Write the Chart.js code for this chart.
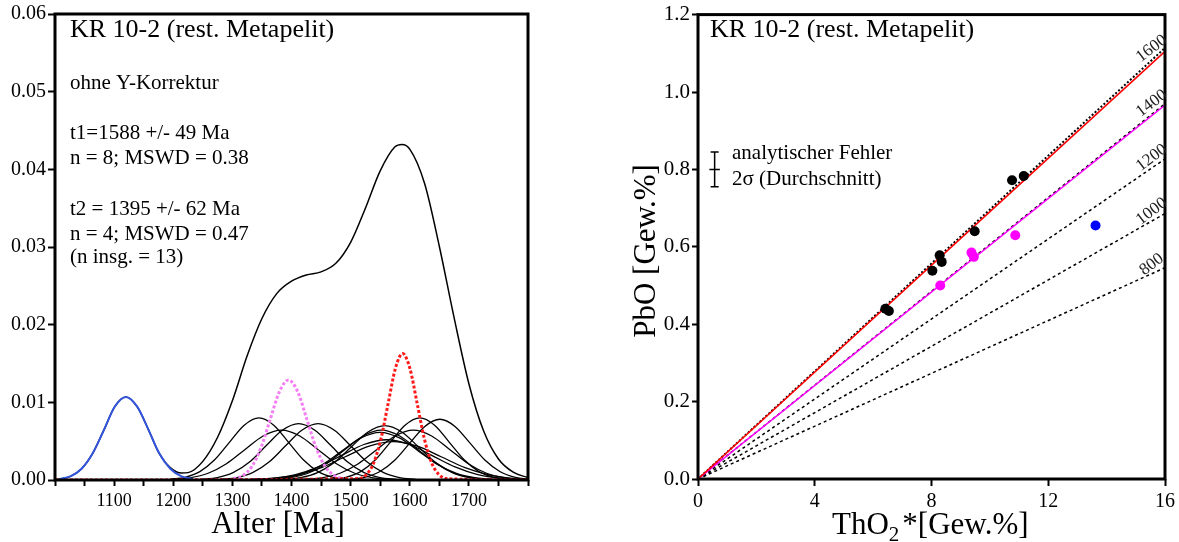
<!DOCTYPE html>
<html>
<head>
<meta charset="utf-8">
<script src="https://cdn.jsdelivr.net/npm/chart.js@4"></script>
<style>
  body { margin: 0; background: #fff; width: 1179px; height: 542px; overflow: hidden; position: relative; }
  .box { position: absolute; top: 0; height: 542px; }
</style>
</head>
<body>
<div class="box" style="left:0;width:560px"><canvas id="pdf"></canvas></div>
<div class="box" style="left:590px;width:589px"><canvas id="iso"></canvas></div>
<script>
// ---------- left panel: probability density vs. age [Ma] ----------
const blueCurve = [[1008,0.00012],[1026,0.00047],[1045,0.00145],[1064,0.00347],[1083,0.00649],[1101,0.00944],[1120,0.0107],[1139,0.00944],[1158,0.00649],[1176,0.00347],[1195,0.00145],[1214,0.00047],[1233,0.00012]];
// t2 mean (magenta dotted) and t1 mean (red dotted)
const t2Curve = [[1302,0.00014],[1317.5,0.00057],[1333,0.00174],[1348.5,0.00418],[1364,0.00781],[1379.5,0.01136],[1395,0.01287],[1410.5,0.01136],[1426,0.00781],[1441.5,0.00418],[1457,0.00174],[1472.5,0.00057],[1488,0.00014]];
const t1Curve = [[1000,0],[1514.5,0.00018],[1526.75,0.00071],[1539,0.0022],[1551.25,0.00529],[1563.5,0.00987],[1575.75,0.01437],[1588,0.01628],[1600.25,0.01437],[1612.5,0.00987],[1624.75,0.00529],[1637,0.0022],[1649.25,0.00071],[1661.5,0.00018],[1800,0]];
// single analyses (black)
const singleCurves = [
  [[1195,0.00009],[1220,0.00035],[1245,0.00108],[1270,0.0026],[1295,0.00485],[1320,0.00706],[1345,0.008],[1370,0.00706],[1395,0.00485],[1420,0.0026],[1445,0.00108],[1470,0.00035],[1495,0.00009]],
  [[1197,0.00007],[1228,0.00028],[1259,0.00087],[1290,0.00209],[1321,0.0039],[1352,0.00567],[1383,0.00643],[1414,0.00567],[1445,0.0039],[1476,0.00209],[1507,0.00087],[1538,0.00028],[1569,0.00007]],
  [[1247,0.00008],[1274.5,0.00032],[1302,0.00098],[1329.5,0.00235],[1357,0.0044],[1384.5,0.0064],[1412,0.00725],[1439.5,0.0064],[1467,0.0044],[1494.5,0.00235],[1522,0.00098],[1549.5,0.00032],[1577,0.00008]],
  [[1280,0.00008],[1307.5,0.00032],[1335,0.00098],[1362.5,0.00235],[1390,0.0044],[1417.5,0.0064],[1445,0.00725],[1472.5,0.0064],[1500,0.0044],[1527.5,0.00235],[1555,0.00098],[1582.5,0.00032],[1610,0.00008]],
  [[1387,0.00008],[1415.5,0.00031],[1444,0.00095],[1472.5,0.00227],[1501,0.00425],[1529.5,0.00618],[1558,0.007],[1586.5,0.00618],[1615,0.00425],[1643.5,0.00227],[1672,0.00095],[1700.5,0.00031],[1729,0.00008]],
  [[1366,0.00007],[1397,0.00028],[1428,0.00087],[1459,0.00209],[1490,0.0039],[1521,0.00567],[1552,0.00643],[1583,0.00567],[1614,0.0039],[1645,0.00209],[1676,0.00087],[1707,0.00028],[1738,0.00007]],
  [[1355,0.00007],[1387.5,0.00027],[1420,0.00083],[1452.5,0.00199],[1485,0.00372],[1517.5,0.00542],[1550,0.00614],[1582.5,0.00542],[1615,0.00372],[1647.5,0.00199],[1680,0.00083],[1712.5,0.00027],[1745,0.00007]],
  [[1330,0.00006],[1368.5,0.00023],[1407,0.0007],[1445.5,0.00168],[1484,0.00314],[1522.5,0.00457],[1561,0.00518],[1599.5,0.00457],[1638,0.00314],[1676.5,0.00168],[1715,0.0007],[1753.5,0.00023],[1792,0.00006]],
  [[1329,0.00005],[1369.5,0.00022],[1410,0.00067],[1450.5,0.0016],[1491,0.00299],[1531.5,0.00435],[1572,0.00493],[1612.5,0.00435],[1653,0.00299],[1693.5,0.0016],[1734,0.00067],[1774.5,0.00022],[1815,0.00005]],
  [[1420,0.00007],[1451,0.00028],[1482,0.00087],[1513,0.00209],[1544,0.0039],[1575,0.00567],[1606,0.00643],[1637,0.00567],[1668,0.0039],[1699,0.00209],[1730,0.00087],[1761,0.00028],[1792,0.00007]],
  [[1467,0.00009],[1492,0.00035],[1517,0.00108],[1542,0.0026],[1567,0.00485],[1592,0.00706],[1617,0.008],[1642,0.00706],[1667,0.00485],[1692,0.0026],[1717,0.00108],[1742,0.00035],[1767,0.00009]],
  [[1498,0.00009],[1523.5,0.00034],[1549,0.00106],[1574.5,0.00254],[1600,0.00474],[1625.5,0.0069],[1651,0.00782],[1676.5,0.0069],[1702,0.00474],[1727.5,0.00254],[1753,0.00106],[1778.5,0.00034],[1804,0.00009]]
];
// summed curve (n = 13)
const sumCurve = [[1000,0.00005],[1008,0.00012],[1026,0.00047],[1045,0.00145],[1064,0.00347],[1083,0.00649],[1101,0.00944],[1120,0.0107],[1139,0.00944],[1158,0.00649],[1176,0.00347],[1195,0.0016],[1214,0.0009],[1225,0.00095],[1250,0.0024],[1275,0.0055],[1300,0.0102],[1325,0.016],[1350,0.0208],[1375,0.024],[1400,0.0256],[1425,0.0264],[1450,0.0268],[1475,0.0279],[1500,0.0306],[1525,0.035],[1550,0.0398],[1575,0.0429],[1587,0.0432],[1600,0.0426],[1625,0.0382],[1650,0.0301],[1675,0.0209],[1700,0.0124],[1725,0.0063],[1750,0.0027],[1775,0.001],[1800,0.0003]];

const sampleName = 'KR 10-2 (rest. Metapelit)';
const pdfNotes = ['ohne Y-Korrektur', 't1=1588 +/- 49 Ma', 'n = 8; MSWD = 0.38', 't2 = 1395 +/- 62 Ma', 'n = 4; MSWD = 0.47', '(n insg. = 13)'];

// ---------- right panel: PbO vs ThO2* [Gew.%] ----------
const thoBlack = [6.42, 6.54, 8.03, 8.28, 8.35, 9.48, 10.76, 11.16];
const pboBlack = [0.440, 0.434, 0.538, 0.578, 0.561, 0.640, 0.772, 0.783];
const thoMagenta = [8.30, 9.37, 9.45, 10.87];
const pboMagenta = [0.500, 0.585, 0.574, 0.630];
const thoBlue = [13.62];
const pboBlue = [0.655];
const isoAges = ['1600', '1400', '1200', '1000', '800'];
const isoPbO16 = [1.114, 0.970, 0.827, 0.686, 0.546];   // PbO where each isochron meets ThO2* = 16
const t1PbO16 = 1.105;
const t2PbO16 = 0.966;

const SERIF = '"Liberation Serif", "Times New Roman", serif';
Chart.defaults.font.family = SERIF;
Chart.defaults.color = '#000';

const xy = arr => arr.map(([x, y]) => ({x, y}));
const curve = (data, color, width, dash) => ({
  data: xy(data), borderColor: color, borderWidth: width, borderDash: dash || [],
  pointRadius: 0, fill: false, cubicInterpolationMode: 'monotone'
});
const axisGrid = len => ({ drawOnChartArea: false, drawTicks: true, tickLength: len, tickWidth: 2, tickColor: '#000' });

const pdfDeco = {
  id: 'pdfDeco',
  afterDraw(chart) {
    const {ctx, chartArea: a} = chart;
    ctx.save();
    ctx.strokeStyle = '#000';
    ctx.lineWidth = 3;
    ctx.strokeRect(a.left, a.top, a.right - a.left, a.bottom - a.top);
    ctx.fillStyle = '#000';
    ctx.textAlign = 'left';
    ctx.textBaseline = 'alphabetic';
    ctx.font = '26px ' + SERIF;
    ctx.fillText(sampleName, a.left + 15, 37);
    ctx.font = '21px ' + SERIF;
    const base = [89, 139, 164, 215, 240, 263];
    pdfNotes.forEach((t, i) => ctx.fillText(t, a.left + 15, base[i]));
    ctx.font = '31px ' + SERIF;
    ctx.textAlign = 'center';
    ctx.fillText('Alter [Ma]', 278, 533);
    ctx.restore();
  }
};

new Chart(document.getElementById('pdf'), {
  type: 'line',
  data: {
    datasets: [
      curve(blueCurve, '#3355dd', 2),
      curve(t1Curve, '#ff1a1a', 3, [3, 2]),
      curve(t2Curve, '#f57ef5', 3, [3, 2]),
      ...singleCurves.map(c => curve(c, '#000', 1.3)),
      curve(sumCurve, '#000', 1.5)
    ]
  },
  options: {
    responsive: true, maintainAspectRatio: false, animation: false,
    layout: { padding: { left: 0, top: 9, right: 32, bottom: 0 } },
    plugins: { legend: { display: false }, tooltip: { enabled: false } },
    scales: {
      x: {
        type: 'linear', min: 1000, max: 1800,
        border: { display: false },
        grid: axisGrid(6),
        ticks: {
          stepSize: 50, autoSkip: false, maxRotation: 0, padding: 4,
          font: { size: 18 },
          callback: v => (v % 100 === 0 && v > 1000 && v < 1800) ? String(v) : ''
        },
        afterFit: s => { s.height = 62; }
      },
      y: {
        min: 0, max: 0.06,
        border: { display: false },
        grid: axisGrid(7),
        ticks: { stepSize: 0.01, padding: 2, font: { size: 20 }, callback: v => v.toFixed(2) },
        afterFit: s => { s.width = 55; }
      }
    }
  },
  plugins: [pdfDeco]
});

const isoDeco = {
  id: 'isoDeco',
  afterDraw(chart) {
    const {ctx, chartArea: a, scales: {x, y}} = chart;
    ctx.save();
    ctx.strokeStyle = '#000';
    ctx.lineWidth = 3;
    ctx.strokeRect(a.left, a.top, a.right - a.left, a.bottom - a.top);
    ctx.fillStyle = '#000';
    ctx.textAlign = 'left';
    ctx.textBaseline = 'alphabetic';
    ctx.font = '26px ' + SERIF;
    ctx.fillText(sampleName, a.left + 12, 37);

    // error bar symbol (average 2 sigma)
    const ex = x.getPixelForValue(0.57), ey = y.getPixelForValue(0.80);
    const hx = x.getPixelForValue(0.75) - ex, hy = ey - y.getPixelForValue(0.845);
    ctx.lineWidth = 1.5;
    ctx.beginPath();
    ctx.moveTo(ex, ey - hy); ctx.lineTo(ex, ey + hy);
    ctx.moveTo(ex - 4, ey - hy); ctx.lineTo(ex + 4, ey - hy);
    ctx.moveTo(ex - 4, ey + hy); ctx.lineTo(ex + 4, ey + hy);
    ctx.moveTo(ex - hx, ey); ctx.lineTo(ex + hx, ey);
    ctx.stroke();
    ctx.font = '21px ' + SERIF;
    ctx.fillText('analytischer Fehler', a.left + 34, 159);
    ctx.fillText('2\u03c3 (Durchschnitt)', a.left + 34, 185);

    // isochron age labels
    ctx.font = '17px ' + SERIF;
    ctx.fillStyle = '#222';
    ctx.textAlign = 'center';
    ctx.textBaseline = 'bottom';
    isoAges.forEach((t, i) => {
      const xv = 15.72;
      const px = x.getPixelForValue(xv), py = y.getPixelForValue(isoPbO16[i] * xv / 16);
      ctx.save();
      ctx.translate(px, py);
      ctx.rotate(-37 * Math.PI / 180);
      ctx.fillText(t, 0, 0);
      ctx.restore();
    });

    // axis titles
    ctx.fillStyle = '#000';
    ctx.textBaseline = 'alphabetic';
    ctx.textAlign = 'left';
    ctx.font = '31px ' + SERIF;
    let tx = 832;
    ctx.fillText('ThO', tx - 590, 534);
    tx += ctx.measureText('ThO').width;
    ctx.font = '21px ' + SERIF;
    ctx.fillText('2', tx - 590, 541);
    tx += ctx.measureText('2').width + 3;
    ctx.font = '31px ' + SERIF;
    ctx.fillText('*[Gew.%]', tx - 590, 534);

    ctx.save();
    ctx.translate(655 - 590, 251);
    ctx.rotate(-Math.PI / 2);
    ctx.textAlign = 'center';
    ctx.fillText('PbO [Gew.%]', 0, 0);
    ctx.restore();
    ctx.restore();
  }
};

const line = (end, color, width, dash) => ({
  data: [{x: 0, y: 0}, {x: 16, y: end}], showLine: true, pointRadius: 0,
  borderColor: color, borderWidth: width, borderDash: dash || []
});
const dots = (xs, ys, color) => ({
  data: xs.map((v, i) => ({x: v, y: ys[i]})), pointRadius: 5, pointBorderWidth: 0,
  backgroundColor: color, borderColor: color, showLine: false
});

new Chart(document.getElementById('iso'), {
  type: 'scatter',
  data: {
    datasets: [
      dots(thoBlack, pboBlack, '#000'),
      dots(thoMagenta, pboMagenta, '#ff00ff'),
      dots(thoBlue, pboBlue, '#0000ff'),
      line(t1PbO16, '#ff0000', 1.5),
      line(t2PbO16, '#ff00ff', 1.5),
      ...isoPbO16.map((v, i) => line(v, '#000', i === 0 ? 2 : 1.5, i === 0 ? [2, 2] : [3, 3]))
    ]
  },
  options: {
    responsive: true, maintainAspectRatio: false, animation: false,
    layout: { padding: { left: 0, top: 9, right: 12, bottom: 0 } },
    plugins: { legend: { display: false }, tooltip: { enabled: false } },
    scales: {
      x: {
        type: 'linear', min: 0, max: 16,
        border: { display: false },
        grid: axisGrid(7),
        ticks: { stepSize: 4, autoSkip: false, maxRotation: 0, padding: 4, font: { size: 20 } },
        afterFit: s => { s.height = 63; }
      },
      y: {
        min: 0, max: 1.2,
        border: { display: false },
        grid: axisGrid(6),
        ticks: { stepSize: 0.2, padding: 2, font: { size: 21 }, callback: v => v.toFixed(1) },
        afterFit: s => { s.width = 108; }
      }
    }
  },
  plugins: [isoDeco]
});
</script>
</body>
</html>
